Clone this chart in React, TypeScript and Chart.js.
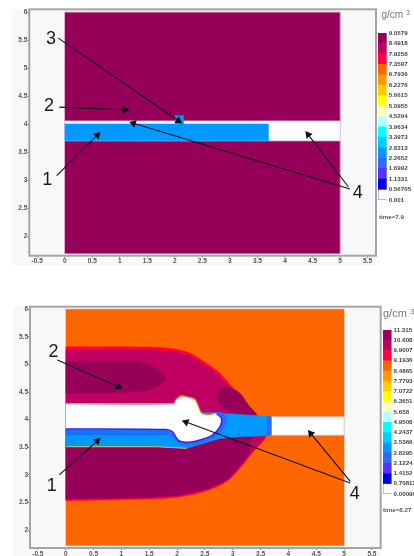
import React, { useEffect, useRef } from "react";
import { Chart, registerables } from "chart.js";

Chart.register(...registerables);

type P = { x: number; y: number };
const pts = (a: number[][]): P[] => a.map(([x, y]) => ({ x, y }));

const xTicks = [-0.5, 0, 0.5, 1, 1.5, 2, 2.5, 3, 3.5, 4, 4.5, 5, 5.5];
const yTicks = [2, 2.5, 3, 3.5, 4, 4.5, 5, 5.5, 6];

const bandColors = ["#ffffff", "#0000ee", "#5533ff", "#3366ff", "#0099ff", "#00ccff", "#00ffff", "#b4ffff", "#ffffb4", "#ffff00", "#ffcc00", "#ff9900", "#ff6600", "#ff0040", "#c00060", "#960059"];
const barLabelsTop = ["0.001", "0.56705", "1.1331", "1.6992", "2.2652", "2.8313", "3.3973", "3.9634", "4.5294", "5.0955", "5.6615", "6.2276", "6.7936", "7.3597", "7.9258", "8.4918", "9.0579"];
const barLabelsBottom = ["0.00098", "0.70811", "1.4152", "2.1224", "2.8295", "3.5366", "4.2437", "4.9508", "5.658", "6.3651", "7.0722", "7.7793", "8.4865", "9.1936", "9.9007", "10.608", "11.315"];

// top panel regions
const topBlock = pts([[0, 1.7], [5, 1.7], [5, 6], [0, 6]]);
const topChannel = pts([[0, 3.71], [5, 3.71], [5, 4.06], [0, 4.06]]);
const topFluid = pts([[0, 3.71], [3.7, 3.71], [3.7, 4.01], [0, 4.01]]);
const topNotch = pts([[2.0, 3.99], [2.16, 3.99], [2.16, 4.16], [2.0, 4.16]]);

// bottom panel regions
const botBlock = pts([[0, 1.72], [5, 1.72], [5, 6], [0, 6]]);
const botHull = pts([[0, 5.32], [1.63, 5.31], [2.17, 5.23], [2.53, 5.02], [2.77, 4.84], [3.01, 4.57], [3.25, 4.27], [3.46, 4.05], [3.61, 3.72], [3.37, 3.42], [3.13, 3.12], [2.89, 2.88], [2.53, 2.71], [2.05, 2.6], [1.46, 2.56], [0, 2.53]]);
const botCrimson = pts([[0, 5.26], [1.6, 5.26], [2.15, 5.18], [2.5, 4.98], [2.75, 4.8], [3, 4.53], [3.22, 4.27], [3.44, 4.05], [3.58, 3.72], [3.34, 3.42], [3.1, 3.12], [2.89, 2.9], [2.53, 2.74], [2.05, 2.63], [1.46, 2.59], [0, 2.56]]);
const botLowerDense = pts([[0, 3.6], [3.34, 3.72], [3.28, 3.36], [3.1, 3.12], [2.89, 2.9], [2.53, 2.74], [2.05, 2.63], [1.46, 2.59], [0, 2.56]]);
const botUpperDense = pts([[0, 5.06], [1, 5.04], [1.22, 5.06], [1.46, 5.0], [1.69, 4.88], [1.8, 4.74], [1.69, 4.63], [1.4, 4.52], [0, 4.48]]);
const botRightDense = pts([[2.71, 4.48], [2.8, 4.58], [2.95, 4.58], [3.13, 4.48], [3.28, 4.27], [3.43, 4.08], [3.13, 4.11], [2.89, 4.18], [2.74, 4.33]]);
const botFluid = pts([[0, 3.51], [1.63, 3.51], [2.17, 3.48], [2.47, 3.57], [2.77, 3.66], [3.13, 3.69], [3.61, 3.71], [3.7, 3.72], [3.7, 4.05], [3.49, 4.07], [3.01, 4.1], [2.53, 4.13], [1.9, 4.1], [0, 3.83]]);
const botFluidEnd = pts([[3.62, 3.71], [3.7, 3.72], [3.7, 4.05], [3.62, 4.06]]);
const botStripRim = pts([[0, 3.72], [1.85, 3.72], [1.9, 3.85], [0, 3.85]]);
const botHalo = pts([[1.8, 3.8], [1.95, 3.65], [2.05, 3.55], [2.2, 3.53], [2.45, 3.59], [2.67, 3.68], [2.87, 3.9], [2.88, 4.05], [2.8, 4.13], [2.6, 4.12], [1.8, 4.0]]);
const botCavity = pts([[0, 4.28], [1.94, 4.28], [1.99, 4.36], [2.08, 4.42], [2.2, 4.4], [2.32, 4.36], [2.38, 4.24], [2.44, 4.11], [2.56, 4.08], [2.71, 4.11], [2.8, 4.02], [2.77, 3.87], [2.62, 3.71], [2.41, 3.63], [2.2, 3.59], [2.02, 3.63], [1.92, 3.78], [1.8, 3.82], [0, 3.83]]);
const botCavityTopLeft = pts([[0, 4.29], [1.94, 4.29]]);
const botCavityTop = pts([[1.94, 4.29], [1.99, 4.37], [2.08, 4.43], [2.2, 4.41], [2.32, 4.37], [2.38, 4.25], [2.44, 4.12], [2.56, 4.09], [2.71, 4.12]]);
const botCavityBottom = pts([[2.71, 4.11], [2.8, 4.02], [2.77, 3.87], [2.62, 3.71], [2.41, 3.63], [2.2, 3.59], [2.02, 3.63], [1.92, 3.78], [1.8, 3.82], [0, 3.83]]);
const botChannelEnd = pts([[3.7, 3.72], [5, 3.72], [5, 4.05], [3.7, 4.05]]);
const botFluidEdge = pts([[0, 3.51], [1.63, 3.51], [2.17, 3.48]]);

// annotations: tail x, tail y, head x, head y
const topArrows = [[-0.116, 5.54, 2.12, 4.03], [-0.098, 4.31, 1.155, 4.26], [-0.145, 3.09, 0.64, 3.86], [5.18, 2.85, 1.186, 4.04], [5.15, 2.89, 4.38, 3.87]];
const botArrows = [[-0.15, 5.08, 1.006, 4.57], [-0.114, 3.0, 0.617, 3.66], [5.11, 2.85, 2.1, 3.98], [5.11, 2.88, 4.36, 3.8]];
const topNotes: [string, number, number][] = [["3", -0.25, 5.52], ["2", -0.285, 4.32], ["1", -0.316, 3.01], ["4", 5.32, 2.77]];
const botNotes: [string, number, number][] = [["2", -0.22, 5.23], ["1", -0.25, 2.79], ["4", 5.19, 2.66]];

const FONT = "'Liberation Sans', sans-serif";

function poly(data: P[], color: string, edge?: string, tension = 0): any {
  return { data, showLine: true, fill: "shape", backgroundColor: color, borderColor: edge ?? color, borderWidth: edge ? 1 : 0.5, pointRadius: 0, tension };
}
function path(data: P[], color: string, width: number, tension = 0): any {
  return { data, showLine: true, fill: false, borderColor: color, borderWidth: width, pointRadius: 0, tension };
}
function arrow([x0, y0, x1, y1]: number[]): any {
  const dx = x1 - x0;
  const dy = y1 - y0;
  const len = Math.hypot(dx, dy);
  const rot = (Math.atan2(dx, dy) * 180) / Math.PI;
  const back = 0.065;
  return {
    data: pts([[x0, y0], [x1 - (dx / len) * back, y1 - (dy / len) * back]]), showLine: true, fill: false, borderColor: "#111", borderWidth: 1.1, tension: 0,
    pointStyle: "triangle", pointRadius: [0, 4.5], pointRotation: [0, rot], pointBackgroundColor: "#111", pointBorderColor: "#111", pointBorderWidth: 0,
  };
}

const topLayers = [
  poly(topBlock, "#960059", "#c46a9e"),
  poly(topChannel, "#ffffff", "#d8e4f8"),
  poly(topFluid, "#0099ff"),
  poly(topNotch, "#0099ff"),
  ...topArrows.map(arrow),
];
const SMOOTH = 0.3;
const botLayers = [
  poly(botBlock, "#ff6600"),
  poly(botHull, "#ff0040", undefined, SMOOTH),
  poly(botCrimson, "#c00060", undefined, SMOOTH),
  poly(botLowerDense, "#960059"),
  poly(botUpperDense, "#960059", undefined, SMOOTH),
  poly(botRightDense, "#960059", undefined, SMOOTH),
  poly(botFluid, "#0099ff"),
  poly(botFluidEnd, "#3366ff"),
  poly(botStripRim, "#1a70ff"),
  poly(botHalo, "#3366ff", undefined, SMOOTH),
  poly(botCavity, "#ffffff", undefined, SMOOTH),
  path(botFluidEdge, "#d8c040", 1),
  path(botCavityTopLeft, "#a0c8a8", 1),
  path(botCavityTop, "#f09020", 1.2, SMOOTH),
  path(botCavityBottom, "#2a2ae0", 1.5, SMOOTH),
  poly(botChannelEnd, "#ffffff", "#c8d8f8"),
  ...botArrows.map(arrow),
];

type Range = { xMin: number; xMax: number; yMin: number; yMax: number };

function makeMain(cv: HTMLCanvasElement, layers: any[], range: Range, box: { left: number; top: number; right: number; axisH: number }, notes: [string, number, number][], unit: { x: number; y: number; size: number }, time: { text: string; x: number; y: number }) {
  const overlay = {
    id: "overlay",
    beforeDatasetsDraw(c: any) {
      const { ctx, chartArea: a } = c;
      ctx.save();
      ctx.strokeStyle = "#a4a4a4";
      ctx.lineWidth = 2;
      ctx.strokeRect(a.left, a.top, a.right - a.left, a.bottom - a.top);
      ctx.restore();
    },
    afterDatasetsDraw(c: any) {
      const { ctx, scales } = c;
      ctx.save();
      ctx.fillStyle = "#1a1a1a";
      ctx.font = `18px ${FONT}`;
      ctx.textAlign = "center";
      ctx.textBaseline = "middle";
      notes.forEach(([t, x, y]) => ctx.fillText(t, scales.x.getPixelForValue(x), scales.y.getPixelForValue(y)));
      ctx.textAlign = "left";
      ctx.fillStyle = "#777";
      ctx.font = `${unit.size}px ${FONT}`;
      ctx.fillText("g/cm", unit.x, unit.y);
      const w = ctx.measureText("g/cm ").width;
      ctx.font = `${unit.size - 3}px ${FONT}`;
      ctx.fillText("3", unit.x + w, unit.y - 2);
      ctx.fillStyle = "#555";
      ctx.font = `bold 6.2px ${FONT}`;
      ctx.fillText(time.text, time.x, time.y);
      ctx.restore();
    },
  };
  const axisFont = { family: FONT, size: 6.5, weight: "bold" as const };
  return new Chart(cv, {
    type: "scatter",
    data: { datasets: layers.map((d, i) => ({ ...d, order: layers.length - i })) },
    plugins: [overlay],
    options: {
      responsive: false,
      animation: false,
      events: [],
      layout: { padding: { left: 0, top: box.top, right: 414 - box.right, bottom: 0 } },
      plugins: { legend: { display: false }, tooltip: { enabled: false } },
      scales: {
        x: {
          type: "linear", min: range.xMin, max: range.xMax,
          afterBuildTicks: (s: any) => { s.ticks = xTicks.map((value) => ({ value })); },
          afterFit: (s: any) => { s.height = box.axisH; },
          grid: { drawOnChartArea: false, tickLength: 2, color: "#888" },
          border: { display: false },
          ticks: { font: axisFont, color: "#555", padding: 0, maxRotation: 0, autoSkip: false, callback: (v: any) => String(v) },
        },
        y: {
          type: "linear", min: range.yMin, max: range.yMax,
          afterBuildTicks: (s: any) => { s.ticks = yTicks.map((value) => ({ value })); },
          afterFit: (s: any) => { s.width = box.left; },
          grid: { drawOnChartArea: false, tickLength: 2, color: "#888" },
          border: { display: false },
          ticks: { font: axisFont, color: "#555", padding: 0, autoSkip: false, callback: (v: any) => String(v) },
        },
      },
    } as any,
  });
}

function makeBar(cv: HTMLCanvasElement, labels: string[], barW: number) {
  const w = cv.width;
  return new Chart(cv, {
    type: "bar",
    data: {
      labels: [""],
      datasets: bandColors.map((c, i) => ({
        data: [1], backgroundColor: c, barPercentage: 1, categoryPercentage: 1,
        borderColor: "#8ea4e6", borderWidth: i === 0 ? { left: 1, bottom: 1 } : 0, borderSkipped: false,
      })),
    },
    options: {
      responsive: false,
      animation: false,
      events: [],
      layout: { padding: { top: 6, bottom: 6, left: 0, right: 0 } },
      plugins: { legend: { display: false }, tooltip: { enabled: false } },
      scales: {
        x: { display: false, stacked: true },
        y: {
          stacked: true, position: "right", min: 0, max: labels.length - 1,
          afterBuildTicks: (s: any) => { s.ticks = labels.map((_, value) => ({ value })); },
          afterFit: (s: any) => { s.width = w - barW; },
          grid: { display: false, drawTicks: false },
          border: { display: false },
          ticks: { font: { family: FONT, size: 6.2, weight: "bold" }, color: "#444", padding: 2, autoSkip: false, callback: (v: any) => labels[v] },
        },
      },
    } as any,
  });
}

const abs = (left: number, top: number): React.CSSProperties => ({ position: "absolute", left, top, display: "block" });

export default function App() {
  const a = useRef<HTMLCanvasElement>(null);
  const b = useRef<HTMLCanvasElement>(null);
  const c = useRef<HTMLCanvasElement>(null);
  const d = useRef<HTMLCanvasElement>(null);
  useEffect(() => {
    const charts = [
      makeMain(a.current!, topLayers, { xMin: -0.643, xMax: 5.653, yMin: 1.661, yMax: 6.053 }, { left: 29.3, top: 9.3, right: 376, axisH: 12.3 }, topNotes, { x: 381.5, y: 15.5, size: 10 }, { text: "time=7.9", x: 379, y: 217 }),
      makeMain(b.current!, botLayers, { xMin: -0.641, xMax: 5.658, yMin: 1.674, yMax: 6.047 }, { left: 30, top: 6.7, right: 380.7, axisH: 8 }, botNotes, { x: 383, y: 14, size: 11 }, { text: "time=8.27", x: 383, y: 210.7 }),
      makeBar(c.current!, barLabelsTop, 8.7),
      makeBar(d.current!, barLabelsBottom, 8.6),
    ];
    return () => charts.forEach((ch) => ch.destroy());
  }, []);
  const soft = { filter: "blur(0.35px)" };
  return (
    <div style={{ position: "fixed", left: 0, top: 0, width: 414, height: 556, overflow: "hidden", background: "#fff" }}>
      <div style={{ position: "absolute", left: 12, top: 9, width: 364, height: 256, background: "#f8f8f8" }} />
      <div style={{ position: "absolute", left: 13, top: 306, width: 368, height: 250, background: "#f8f8f8" }} />
      <canvas ref={a} width={414} height={268} style={{ ...abs(0, 0), ...soft }} />
      <canvas ref={b} width={414} height={256} style={{ ...abs(0, 300), ...soft }} />
      <canvas ref={c} width={36} height={179} style={{ ...abs(378, 27.3), ...soft }} />
      <canvas ref={d} width={32} height={176} style={{ ...abs(382.5, 324), ...soft }} />
    </div>
  );
}
